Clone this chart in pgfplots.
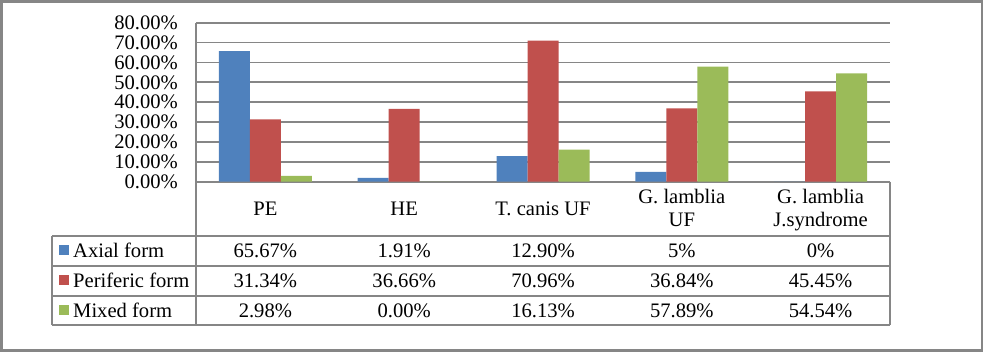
\documentclass[border=0pt]{standalone}
\usepackage{pgfplots}
\pgfplotsset{compat=1.18}
\usepackage{fontspec}
\setmainfont{Liberation Serif}
\definecolor{cA}{HTML}{4F81BD}
\definecolor{cB}{HTML}{C0504D}
\definecolor{cC}{HTML}{9BBB59}
\definecolor{gl}{HTML}{868686}
\begin{document}
\begin{tikzpicture}[font=\fontsize{20.6}{23}\selectfont]
\begin{scope}[x=1pt,y=-1pt]
\useasboundingbox (0,0) rectangle (984,352);
\end{scope}
\begin{axis}[at={(196pt,-181.7pt)}, anchor=south west, scale only axis,
 width=694pt, height=159pt,
 xmin=0.5, xmax=5.5, ymin=0, ymax=80, ytick={0,10,...,80}, xtick=\empty,
 ybar=0pt, bar width=31pt,
 axis line style={draw=none}, major tick length=0pt,
 ymajorgrids, grid style={gl, line width=1.8pt},
 yticklabel={\pgfmathprintnumber[fixed,fixed zerofill,precision=2]{\tick}\%},
 /pgf/number format/assume math mode=true,
 yticklabel style={font=\fontsize{20.6}{23}\selectfont, inner sep=0pt, xshift=-18pt},
 clip=false,
]
\addplot[fill=cA, draw=none] coordinates {(1,65.67) (2,1.91) (3,12.90) (4,5) (5,0)};
\addplot[fill=cB, draw=none] coordinates {(1,31.34) (2,36.66) (3,70.96) (4,36.84) (5,45.45)};
\addplot[fill=cC, draw=none] coordinates {(1,2.98) (2,0) (3,16.13) (4,57.89) (5,54.54)};
\end{axis}
\begin{scope}[x=1pt,y=-1pt]
\draw[gl, line width=2.2pt] (1.5,1.5) rectangle (982,350.5);
% table lines
\draw[gl, line width=1.8pt] (196,22.7) -- (196,325);
\draw[gl, line width=1.8pt] (890,181.7) -- (890,325);
\draw[gl, line width=1.8pt] (52,236) -- (52,325);
\foreach \yy in {236,266,296,325} \draw[gl, line width=1.8pt] (52,\yy) -- (890,\yy);
% header
\node[anchor=base, inner sep=0] at (265.4,216) {PE};
\node[anchor=base, inner sep=0] at (404.2,216) {HE};
\node[anchor=base, inner sep=0] at (543,216) {T. canis UF};
\node[anchor=base, inner sep=0] at (681.8,204) {G. lamblia};
\node[anchor=base, inner sep=0] at (681.8,227) {UF};
\node[anchor=base, inner sep=0] at (820.6,204) {G. lamblia};
\node[anchor=base, inner sep=0] at (820.6,227) {J.syndrome};
% legend column
\fill[cA] (59,245) rectangle (69,255);
\fill[cB] (59,275) rectangle (69,285);
\fill[cC] (59,305) rectangle (69,315);
\node[anchor=base west, inner sep=0] at (73,257.5) {Axial form};
\node[anchor=base west, inner sep=0] at (73,287.5) {Periferic form};
\node[anchor=base west, inner sep=0] at (73,317.3) {Mixed form};
% values
\foreach \x/\a/\b/\c in {265.4/65.67\%/31.34\%/2.98\%, 404.2/1.91\%/36.66\%/0.00\%, 543/12.90\%/70.96\%/16.13\%, 681.8/5\%/36.84\%/57.89\%, 820.6/0\%/45.45\%/54.54\%}{
 \node[anchor=base, inner sep=0] at (\x,257.5) {\a};
 \node[anchor=base, inner sep=0] at (\x,287.5) {\b};
 \node[anchor=base, inner sep=0] at (\x,317.3) {\c};
}
\end{scope}
\end{tikzpicture}
\end{document}
